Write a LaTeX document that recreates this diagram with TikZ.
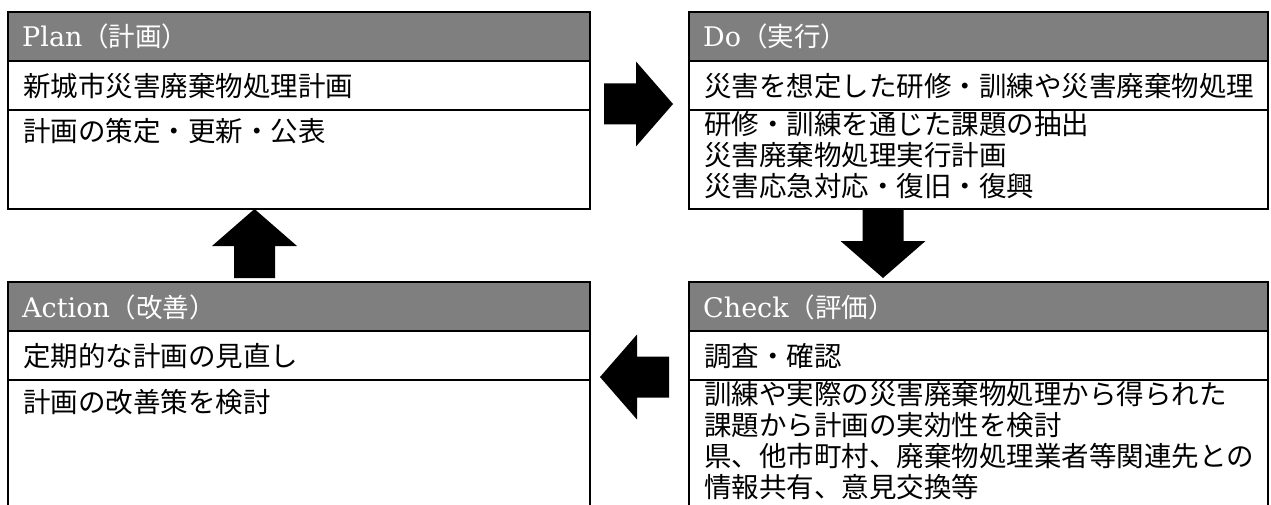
\documentclass[tikz,border=0pt]{standalone}
\usepackage{fontspec}
\newfontfamily\cjk{Noto Sans CJK JP}
\newfontfamily\lathdr{DejaVu Serif}
\usetikzlibrary{calc}
\definecolor{hdrgray}{RGB}{127,127,127}
\newcommand{\hdrtext}[2]{{\lathdr\fontsize{27}{30}\selectfont #1}{\cjk\fontsize{26.5}{30}\selectfont #2}}
\begin{document}
\begin{tikzpicture}[x=1pt,y=-1pt,
  frame/.style={draw=black, line width=2pt, fill=white, anchor=north west, inner sep=0pt, outer sep=0pt},
  hdr/.style={frame, fill=hdrgray},
  hdrtxt/.style={anchor=base west, inner sep=0pt, text=white},
  body/.style={anchor=base west, inner sep=0pt, font=\cjk\fontsize{27.5}{31}\selectfont},
  blockarrow/.pic={\fill[black] (0,-20.5) -- (32,-20.5) -- (32,-42.5) -- (69,0) -- (32,42.5) -- (32,20.5) -- (0,20.5) -- cycle;}]
\useasboundingbox (0,0) rectangle (1271,505);
\clip (0,0) rectangle (1271,505);
% Plan
\node[hdr, minimum width=582pt, minimum height=49pt] (planh) at (8,12) {};
\node[frame, minimum width=582pt, minimum height=49pt] (plan1) at (8,61) {};
\node[frame, minimum width=582pt, minimum height=99pt] (plan2) at (8,110) {};
\node[hdrtxt] (planht) at ($(planh.north west)+(14,35)$) {\hdrtext{Plan}{（計画）}};
\node[body] (plan1t) at ($(plan1.north west)+(15,35.5)$) {新城市災害廃棄物処理計画};
\node[body] (plan2t) at ($(plan2.north west)+(15,32)$) {\parbox[t]{560pt}{計画の策定・更新・公表}};
% Do
\node[hdr, minimum width=579pt, minimum height=49pt] (doh) at (689,12) {};
\node[frame, minimum width=579pt, minimum height=49pt] (do1) at (689,61) {};
\node[frame, minimum width=579pt, minimum height=99pt] (do2) at (689,110) {};
\node[hdrtxt] (doht) at ($(doh.north west)+(14,35)$) {\hdrtext{Do}{（実行）}};
\node[body] (do1t) at ($(do1.north west)+(15,35.5)$) {災害を想定した研修・訓練や災害廃棄物処理};
\node[body] (do2t) at ($(do2.north west)+(15,24.5)$) {\parbox[t]{560pt}{研修・訓練を通じた課題の抽出\\災害廃棄物処理実行計画\\災害応急対応・復旧・復興}};
% Action
\node[hdr, minimum width=582pt, minimum height=49pt] (acth) at (8,282) {};
\node[frame, minimum width=582pt, minimum height=49pt] (act1) at (8,331) {};
\node[frame, minimum width=582pt, minimum height=160pt] (act2) at (8,380) {};
\node[hdrtxt] (actht) at ($(acth.north west)+(14,35)$) {\hdrtext{Action}{（改善）}};
\node[body] (act1t) at ($(act1.north west)+(15,35.5)$) {定期的な計画の見直し};
\node[body] (act2t) at ($(act2.north west)+(15,32)$) {\parbox[t]{560pt}{計画の改善策を検討}};
% Check
\node[hdr, minimum width=579pt, minimum height=49pt] (chkh) at (689,282) {};
\node[frame, minimum width=579pt, minimum height=49pt] (chk1) at (689,331) {};
\node[frame, minimum width=579pt, minimum height=160pt] (chk2) at (689,380) {};
\node[hdrtxt] (chkht) at ($(chkh.north west)+(14,35)$) {\hdrtext{Check}{（評価）}};
\node[body] (chk1t) at ($(chk1.north west)+(15,35.5)$) {調査・確認};
\node[body] (chk2t) at ($(chk2.north west)+(15,24.5)$) {\parbox[t]{570pt}{訓練や実際の災害廃棄物処理から得られた\\課題から計画の実効性を検討\\県、他市町村、廃棄物処理業者等関連先との\\情報共有、意見交換等}};
% block arrows
\coordinate (rA) at ($(planh.south east)+(14,43)$);
\coordinate (dA) at ($(do2.south west)+(194,0)$);
\coordinate (lA) at ($(chk1.north west)+(-20,46)$);
\coordinate (uA) at ($(acth.north west)+(246.5,-4)$);
\pic at (rA) {blockarrow};
\pic[rotate=-90] at (dA) {blockarrow};
\pic[rotate=180] at (lA) {blockarrow};
\pic[rotate=90] at (uA) {blockarrow};
\end{tikzpicture}
\end{document}
